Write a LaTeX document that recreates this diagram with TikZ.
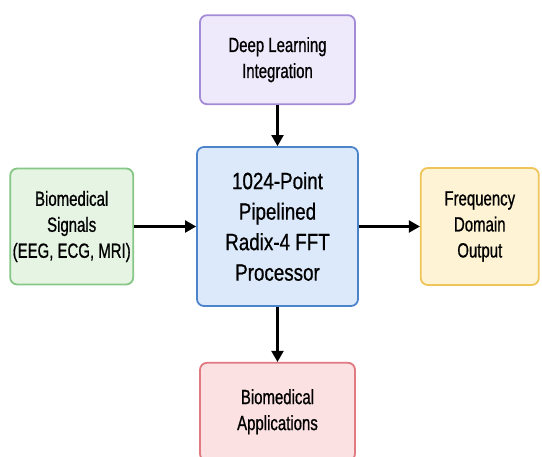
\documentclass[tikz,border=0pt]{standalone}
\usepackage{fontspec}
\setmainfont{Liberation Sans}[FakeStretch=0.73, FakeBold=0.8]
\newfontfamily\fuenteCentral{Liberation Sans}[FakeStretch=0.8, FakeBold=0.8]
\usetikzlibrary{arrows.meta, positioning}
\definecolor{moradoBorde}{HTML}{A38BD8}
\definecolor{moradoFondo}{HTML}{EFEAFB}
\definecolor{verdeBorde}{HTML}{86C785}
\definecolor{verdeFondo}{HTML}{E6F4E4}
\definecolor{azulBorde}{HTML}{4C84CC}
\definecolor{azulFondo}{HTML}{DCE9FA}
\definecolor{amarilloBorde}{HTML}{EFC55A}
\definecolor{amarilloFondo}{HTML}{FFF3D5}
\definecolor{rojoBorde}{HTML}{E07A80}
\definecolor{rojoFondo}{HTML}{FCE1E2}
\tikzset{
  cajaBase/.style={
    draw, line width=1.8pt, rounded corners=7pt,
    align=center, inner sep=0pt, text=black,
    font=\fontsize{20.5}{26}\selectfont
  },
  cajaIA/.style={cajaBase, draw=moradoBorde, fill=moradoFondo,
    minimum width=155pt, minimum height=89pt},
  cajaSenal/.style={cajaBase, draw=verdeBorde, fill=verdeFondo,
    minimum width=123pt, minimum height=116pt},
  cajaFFT/.style={cajaBase, draw=azulBorde, fill=azulFondo,
    minimum width=161pt, minimum height=159pt,
    font=\fuenteCentral\fontsize{23.5}{30.5}\selectfont},
  cajaSalida/.style={cajaBase, draw=amarilloBorde, fill=amarilloFondo,
    minimum width=118pt, minimum height=117pt},
  cajaAplic/.style={cajaBase, draw=rojoBorde, fill=rojoFondo,
    minimum width=155pt, minimum height=98pt},
  flecha/.style={-{Triangle[length=11pt, width=12pt]}, line width=2.2pt, black},
}

\begin{document}
\begin{tikzpicture}
    \useasboundingbox (-277.5pt,-230.5pt) rectangle (264.5pt,226.5pt);
    \node[cajaFFT] (fft) {1024-Point\\Pipelined\\Radix-4 FFT\\Processor};
    \node[cajaIA, above=41pt of fft] (ia) {Deep Learning\\Integration};
    \node[cajaSenal, left=62pt of fft] (senal) {Biomedical\\Signals\\(EEG, ECG, MRI)};
    \node[cajaSalida, right=61pt of fft] (salida) {Frequency\\Domain\\Output};
    \node[cajaAplic, below=55pt of fft] (aplic) {Biomedical\\Applications};
    \draw[flecha] (ia) -- (fft);
    \draw[flecha] (senal) -- (fft);
    \draw[flecha] (fft) -- (salida);
    \draw[flecha] (fft) -- (aplic);
  \end{tikzpicture}
\end{document}
